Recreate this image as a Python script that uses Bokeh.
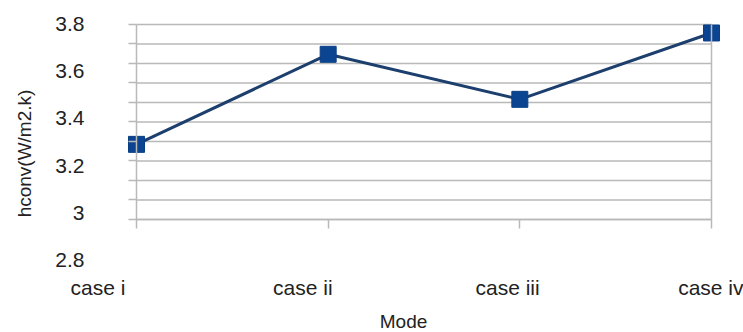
from bokeh.plotting import figure
from bokeh.models import Range1d, LinearAxis, FixedTicker, CustomJSTickFormatter, NumeralTickFormatter
from bokeh.embed import file_html
from bokeh.resources import INLINE

# Convective heat-transfer coefficient for each operating mode
modes = ["case i", "case ii", "case iii", "case iv"]
hconv = [3.29, 3.67, 3.48, 3.76]

# Labelled values on the vertical axis
y_ticks = [2.8, 3.0, 3.2, 3.4, 3.6, 3.8]
# Horizontal rule levels of the plot area
grid_levels = [3.0, 3.08, 3.16, 3.24, 3.32, 3.4, 3.48, 3.56, 3.64, 3.72, 3.8]

idx = list(range(len(modes)))

GRID = "#b9b9b9"
TEXT = "#222222"
FONT = "Liberation Sans"

p = figure(width=743, height=332, output_backend="svg", toolbar_location=None,
           x_range=Range1d(-0.70957, 3.16696), y_range=Range1d(2.53641, 3.89846),
           x_axis_location=None, y_axis_location=None,
           min_border_left=0, min_border_right=0, min_border_top=0, min_border_bottom=0,
           background_fill_color="white", border_fill_color="white")
p.outline_line_color = None
p.grid.visible = False
p.extra_x_ranges = {"lab": Range1d(-0.47607, 3.15186)}
p.extra_y_ranges = {"lab": Range1d(2.49620, 3.89705)}

# horizontal rules between the first and last mode
p.segment(x0=idx[0], x1=idx[-1], y0=grid_levels, y1=grid_levels,
          line_color=GRID, line_width=1.5)

blank = CustomJSTickFormatter(code="return ''")

def rule_axis(**kw):
    ax = LinearAxis(formatter=blank, axis_line_color=GRID, axis_line_width=1.5,
                    major_tick_line_color=GRID, major_tick_line_width=1.5,
                    major_tick_in=0, minor_tick_in=0, minor_tick_out=0, **kw)
    return ax

# left rule with short outward ticks at every level
p.add_layout(rule_axis(fixed_location=idx[0], bounds=(grid_levels[0], grid_levels[-1]),
                       ticker=FixedTicker(ticks=grid_levels), major_tick_out=8), "left")
# right edge of the plot area
p.add_layout(rule_axis(fixed_location=idx[-1], bounds=(grid_levels[0], grid_levels[-1]),
                       ticker=FixedTicker(ticks=[]), major_tick_out=0), "right")
# bottom rule with ticks at each mode
p.add_layout(rule_axis(fixed_location=grid_levels[0], bounds=(idx[0], idx[-1]),
                       ticker=FixedTicker(ticks=idx), major_tick_out=9), "below")

# value labels and axis title
y_lab = LinearAxis(y_range_name="lab", fixed_location=-0.25565, bounds=(2.7, 3.803),
                   ticker=FixedTicker(ticks=y_ticks),
                   formatter=NumeralTickFormatter(format="0.[0]"),
                   axis_line_color=None, major_tick_out=0, major_tick_in=0,
                   minor_tick_out=0, minor_tick_in=0, major_label_standoff=3,
                   major_label_text_font=FONT, major_label_text_font_size="21px",
                   major_label_text_color=TEXT,
                   axis_label="hconv(W/m2.k)", axis_label_standoff=17,
                   axis_label_text_font=FONT, axis_label_text_font_size="19px",
                   axis_label_text_font_style="normal", axis_label_text_color=TEXT)
p.add_layout(y_lab, "left")

# mode labels and axis title
x_lab = LinearAxis(x_range_name="lab", fixed_location=2.7662, bounds=(-0.02, 3.0034),
                   ticker=FixedTicker(ticks=idx),
                   formatter=CustomJSTickFormatter(args=dict(labels=modes),
                                                   code="return labels[Math.round(tick)] ?? ''"),
                   axis_line_color=None, major_tick_out=0, major_tick_in=0,
                   minor_tick_out=0, minor_tick_in=0, major_label_standoff=0,
                   major_label_text_font=FONT, major_label_text_font_size="21px",
                   major_label_text_color=TEXT,
                   axis_label="Mode", axis_label_standoff=8,
                   axis_label_text_font=FONT, axis_label_text_font_size="19px",
                   axis_label_text_font_style="normal", axis_label_text_color=TEXT)
p.add_layout(x_lab, "below")

# the series
p.line(idx, hconv, y_range_name="lab", line_color="#1d3f6e", line_width=3)
p.scatter(idx, hconv, y_range_name="lab", marker="square", size=16,
          fill_color="#0b4592", line_color="#0b3f85", line_width=1)

open("out.html", "w").write(file_html(p, INLINE))
